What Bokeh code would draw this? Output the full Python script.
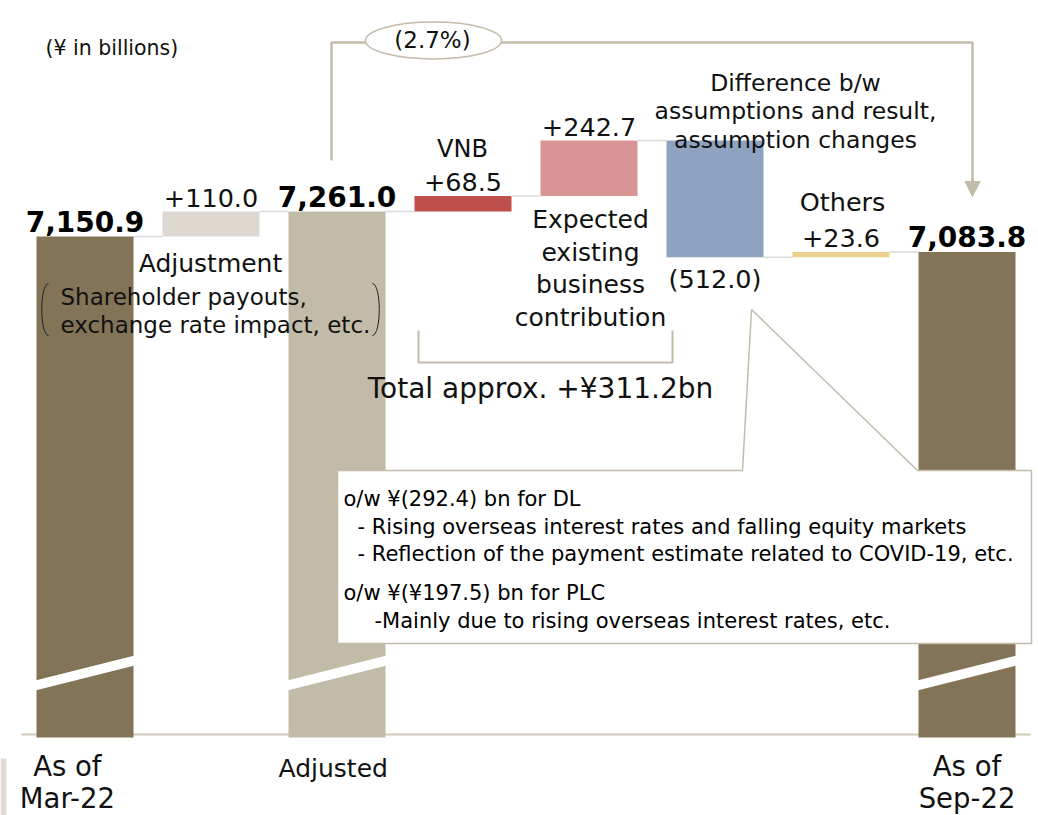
from bokeh.plotting import figure
from bokeh.models import Range1d, Arrow, NormalHead
from bokeh.core.properties import value
from bokeh.embed import file_html
from bokeh.resources import INLINE

# ---------------- data ----------------
categories = ["As of Mar-22", "Adjustment", "Adjusted", "VNB",
              "Expected existing business contribution",
              "Difference b/w assumptions and result, assumption changes",
              "Others", "As of Sep-22"]
values = [7150.9, 110.0, 7261.0, 68.5, 242.7, -512.0, 23.6, 7083.8]
is_total = [True, False, True, False, False, False, False, True]
value_labels = ["7,150.9", "+110.0", "7,261.0", "+68.5", "+242.7", "(512.0)", "+23.6", "7,083.8"]
bar_colors = ["#837457", "#DDD9D1", "#C2BBA8", "#C0504D", "#D99594", "#8DA3BF", "#EAD28C", "#837457"]
axis_labels = [["As of", "Mar-22"], None, ["Adjusted"], None, None, None, None, ["As of", "Sep-22"]]
change_label = "(2.7%)"
unit_label = "(¥ in billions)"
total_note = "Total approx. +¥311.2bn"
callout_lines = ["o/w ¥(292.4) bn for DL",
                 "- Rising overseas interest rates and falling equity markets",
                 "- Reflection of the payment estimate related to COVID-19, etc.",
                 "o/w ¥(¥197.5) bn for PLC",
                 "-Mainly due to rising overseas interest rates, etc."]

# ---------------- layout ----------------
FIG_W, FIG_H = 1038, 815
OFF = 0
X0_PX, DX_PX = 84.5, 126.0  # px of first category centre, spacing
PX_PER_UNIT = 0.228
ANCHOR_V, ANCHOR_PX = 7261.0, 211.0
Y_TOP = ANCHOR_V + ANCHOR_PX / PX_PER_UNIT
Y_BOTTOM = ANCHOR_V - (FIG_H - ANCHOR_PX) / PX_PER_UNIT
K = FIG_H / (Y_TOP - Y_BOTTOM)
BAR_W = 0.77
FONT = value("DejaVu Sans")
LINE_C = "#C4BCAA"


def X(px):   # page px -> x data
    return (px - OFF - X0_PX) / DX_PX


def Y(py):   # page px -> y data
    return Y_TOP - (py - OFF) / K


def dpx(n):  # n px -> value units
    return n / K


BASE = Y(737)  # floor of the truncated axis

p = figure(width=FIG_W, height=FIG_H, output_backend="svg", toolbar_location=None,
           x_range=Range1d(X(0), X(FIG_W)),
           y_range=Range1d(Y_BOTTOM, Y_TOP), min_border=0)
p.axis.visible = False
p.grid.visible = False
p.outline_line_color = None
p.background_fill_color = "white"
p.border_fill_color = "white"

# waterfall geometry from data
xs = list(range(len(values)))
bottoms, tops, levels = [], [], []
running = 0.0
for v, tot in zip(values, is_total):
    if tot:
        bottoms.append(BASE)
        tops.append(v)
        running = v
    else:
        b, t = running, running + v
        bottoms.append(min(b, t))
        tops.append(max(b, t))
        running = t
    levels.append(running)

# small decorative strip at left edge
p.quad(left=[X(0)], right=[X(6)], bottom=[Y(815)], top=[Y(758)], fill_color="#E0DCD3", line_color=None)

# baseline
p.segment(x0=[X(21)], y0=[Y(734)], x1=[X(1030)], y1=[Y(734)], line_color="#CFC8B8", line_width=2)

# bars
p.vbar(x=xs, width=BAR_W, bottom=bottoms, top=tops, fill_color=bar_colors, line_color=None)

# axis break stripes on total bars
for i, tot in enumerate(is_total):
    if tot:
        l, r = i - BAR_W / 2 - 0.01, i + BAR_W / 2 + 0.01
        p.patch(x=[l, r, r, l], y=[Y(680), Y(655), Y(665), Y(690)],
                fill_color="white", line_color=None)

# connectors
c_x0, c_x1, c_y = [], [], []
for i in range(len(values) - 1):
    c_x0.append(i + BAR_W / 2)
    c_x1.append(i + 1 - BAR_W / 2)
    c_y.append(levels[i])
p.segment(x0=c_x0, y0=c_y, x1=c_x1, y1=c_y, line_color="#DADADA", line_width=1.5)

# top bracket with percentage change
p.line(x=[X(331), X(331), X(366)], y=[Y(160), Y(42), Y(42)], line_color=LINE_C, line_width=2.5)
p.line(x=[X(500), X(972), X(972)], y=[Y(42), Y(42), Y(182)], line_color=LINE_C, line_width=2.5)
p.add_layout(Arrow(end=NormalHead(size=15, fill_color=LINE_C, line_color=LINE_C),
                   x_start=X(972), y_start=Y(178), x_end=X(972), y_end=Y(196),
                   line_color=LINE_C, line_width=2.5))
p.ellipse(x=[X(433)], y=[Y(40)], width=[136 / DX_PX], height=[dpx(37)],
          fill_color="white", line_color=LINE_C, line_width=1.5)


def txt(px, py, s, size="23px", align="center", color="#111111", style="normal"):
    p.text(x=[X(px)], y=[Y(py)], text=[s], text_font=FONT, text_font_size=size,
           text_font_style=style, text_align=align, text_baseline="middle", text_color=color)


txt(432, 39, change_label, size="23px")
txt(45, 47, unit_label, size="20.5px", align="left")

# value labels from data
for i, lab in enumerate(value_labels):
    if is_total[i]:
        yy = tops[i] + dpx(15)
        p.text(x=[i], y=[yy], text=[lab], text_font=FONT, text_font_size="28px",
               text_font_style="bold", text_align="center", text_baseline="middle",
               text_color="#000000")
    elif values[i] >= 0:
        p.text(x=[i], y=[tops[i] + dpx(14)], text=[lab], text_font=FONT, text_font_size="25.5px",
               text_align="center", text_baseline="middle", text_color="#111111")
    else:
        p.text(x=[i], y=[bottoms[i] - dpx(22)], text=[lab], text_font=FONT, text_font_size="25.5px",
               text_align="center", text_baseline="middle", text_color="#111111")

# category name labels
txt(462, 148, "VNB", size="24px")
for k, s in enumerate(["Expected", "existing", "business", "contribution"]):
    txt(590, 219 + k * 32.5, s, size="25px")
for k, s in enumerate(["Difference b/w", "assumptions and result,", "assumption changes"]):
    txt(795, 82 + k * 28.5, s, size="23.5px")
txt(842, 201, "Others", size="25.5px")
txt(210, 263, "Adjustment", size="25px")
txt(60, 296, "Shareholder payouts,", align="left")
txt(60, 324, "exchange rate impact, etc.", align="left")

# parentheses around note
p.bezier(x0=[X(48), X(372)], y0=[Y(283), Y(283)], x1=[X(48), X(372)], y1=[Y(335), Y(335)],
         cx0=[X(39), X(381)], cy0=[Y(284), Y(284)], cx1=[X(39), X(381)], cy1=[Y(334), Y(334)],
         line_color="#222222", line_width=1)

# total bracket
p.line(x=[X(418), X(418), X(672), X(672)], y=[Y(330), Y(362), Y(362), Y(330)],
       line_color=LINE_C, line_width=2)
txt(540, 388, total_note, size="28px")

# callout box
p.patch(x=[X(337), X(742), X(751), X(917), X(1031), X(1031), X(337)],
        y=[Y(470), Y(470), Y(309), Y(470), Y(470), Y(643), Y(643)],
        fill_color="white", line_color=LINE_C, line_width=1.5)
for s, xx, yy in zip(callout_lines, [343, 357, 357, 343, 374], [498, 526, 553, 592, 620]):
    txt(xx, yy, s, size="21px", align="left", color="#000000")

# axis category labels (below the truncated axis)
for i, labs in enumerate(axis_labels):
    if labs is None:
        continue
    if len(labs) == 2:
        for k, s in enumerate(labs):
            p.text(x=[i - 0.14 if i == 0 else i], y=[BASE - dpx(28 + 32 * k)], text=[s], text_font=FONT,
                   text_font_size="27.5px", text_align="center", text_baseline="middle",
                   text_color="#111111")
    else:
        p.text(x=[i - 0.03], y=[BASE - dpx(31)], text=[labs[0]], text_font=FONT,
               text_font_size="25px", text_align="center", text_baseline="middle",
               text_color="#111111")

open("out.html", "w").write(file_html(p, INLINE))
